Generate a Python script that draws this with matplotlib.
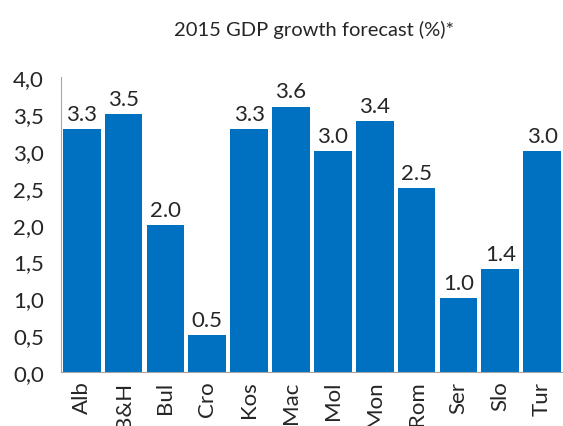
import matplotlib
matplotlib.use('Agg')
from matplotlib import pyplot as plt
from matplotlib.ticker import FuncFormatter

countries = ['Alb', 'B&H', 'Bul', 'Cro', 'Kos', 'Mac', 'Mol', 'Mon', 'Rom', 'Ser', 'Slo', 'Tur']
growth = [3.3, 3.5, 2.0, 0.5, 3.3, 3.6, 3.0, 3.4, 2.5, 1.0, 1.4, 3.0]
yticks = [0.0, 0.5, 1.0, 1.5, 2.0, 2.5, 3.0, 3.5, 4.0]

BAR_COLOR = '#0070C0'
TEXT_COLOR = '#262626'

plt.rcParams['font.family'] = ['Lato', 'DejaVu Sans']

fig = plt.figure(figsize=(5.63, 4.27), dpi=100)
ax = fig.add_axes([0.108, 0.126, 0.892, 0.691])

xs = list(range(len(countries)))
ax.bar(xs, growth, width=0.9, color=BAR_COLOR)

for x, v in zip(xs, growth):
    ax.text(x, v + 0.07, '%.1f' % v, ha='center', va='bottom',
            fontsize=16, color=TEXT_COLOR)

ax.set_xlim(-0.5, len(countries) - 0.5)
ax.set_ylim(0, 4.0)
ax.set_yticks(yticks)
ax.yaxis.set_major_formatter(FuncFormatter(lambda v, p: ('%.1f' % v).replace('.', ',')))
ax.set_xticks(xs)
ax.set_xticklabels(countries, rotation=90)
ax.tick_params(axis='both', length=0, labelsize=16, labelcolor=TEXT_COLOR)
ax.tick_params(axis='y', pad=12)
ax.tick_params(axis='x', pad=6)

for side in ['top', 'right']:
    ax.spines[side].set_visible(False)
for side in ['left', 'bottom']:
    ax.spines[side].set_color('#a6a6a6')

fig.text(0.558, 0.93, '2015 GDP growth forecast (%)*', ha='center', va='center',
         fontsize=14.5, color=TEXT_COLOR)

fig.savefig('out.png', dpi=100)
